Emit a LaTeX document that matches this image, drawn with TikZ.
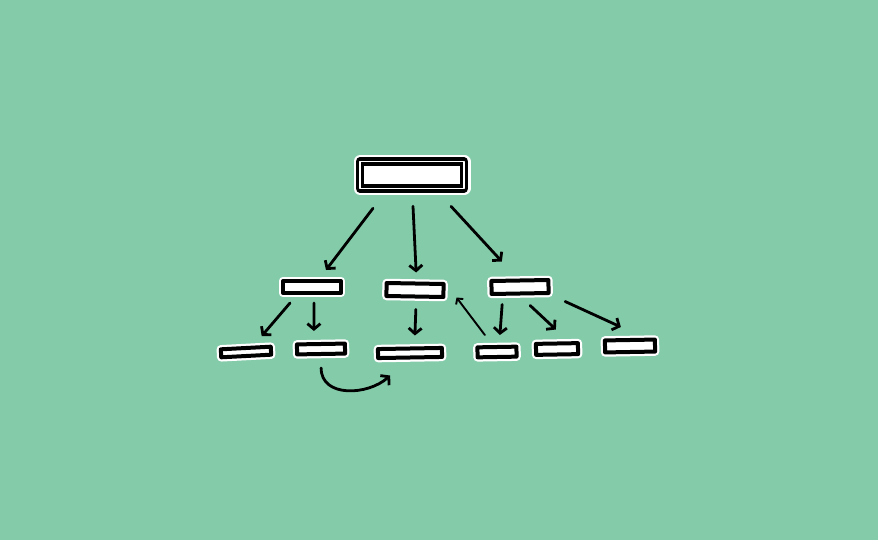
\documentclass[tikz,border=0pt]{standalone}
\usetikzlibrary{arrows.meta}
\definecolor{bgreen}{RGB}{132,203,170}
\begin{document}
\begin{tikzpicture}[x=1pt, y=-1pt,
		box/.style={draw=black, fill=white, line width=4pt, line join=round, inner sep=0pt,
			preaction={draw=white, line width=8.5pt}},
		rootbox/.style={draw=black, fill=white, line width=3.6pt, line join=round, double=white,
			double distance=1.6pt, inner sep=0pt,
			preaction={draw=white, line width=13pt}},
		arr/.style={line width=2.8pt, line cap=round,
			-{Straight Barb[length=5.5pt, width=13pt, line width=2.8pt]}},
		thinarr/.style={line width=1.9pt, line cap=round,
			-{Straight Barb[length=4pt, width=9pt, line width=1.9pt]}}]
				\fill[bgreen] (0, 0) rectangle (878, 540);

				%%the boxes
				\node[rootbox, minimum width=104pt, minimum height=27pt] (root) at (412, 175) {};

				\node[box, minimum width=58pt, minimum height=12pt] (midA) at (312, 287) {};
				\node[box, minimum width=57pt, minimum height=13pt, rotate=-1] (midB) at (415, 290) {};
				\node[box, minimum width=57pt, minimum height=13pt, rotate=1] (midC) at (520, 287) {};

				\node[box, minimum width=50pt, minimum height=8pt, rotate=3] (lowD) at (246, 352) {};
				\node[box, minimum width=48pt, minimum height=10pt, rotate=1] (lowE) at (321, 349) {};
				\node[box, minimum width=64pt, minimum height=9pt, rotate=1] (lowF) at (410, 353) {};
				\node[box, minimum width=39pt, minimum height=10pt, rotate=1] (lowG) at (497, 352) {};
				\node[box, minimum width=42pt, minimum height=11pt, rotate=1] (lowH) at (557, 349) {};
				\node[box, minimum width=50pt, minimum height=12pt, rotate=1] (lowI) at (630, 346) {};

				%%root to the middle row
				\draw[arr] ([xshift=-39pt, yshift=-18pt]root.south) -- ([xshift=14pt, yshift=9pt]midA.north);
				\draw[arr] ([xshift=1pt, yshift=-16pt]root.south) -- ([xshift=1pt, yshift=9pt]midB.north);
				\draw[arr] ([xshift=39pt, yshift=-16pt]root.south) -- ([xshift=-18pt, yshift=17pt]midC.north);

				%%left branch
				\draw[arr] ([xshift=-22pt, yshift=-8pt]midA.south) -- ([xshift=16pt, yshift=10pt]lowD.north);
				\draw[arr] ([xshift=2pt, yshift=-8pt]midA.south) -- ([xshift=-7pt, yshift=11pt]lowE.north);
				\draw[arr] ([yshift=-12pt]lowE.south) .. controls +(0, 30) and +(-22, 20) .. ([xshift=-20pt, yshift=-16pt]lowF.south);

				%%middle branch
				\draw[arr] ([xshift=1pt, yshift=-11pt]midB.south) -- ([xshift=5pt, yshift=11pt]lowF.north);
				\draw[thinarr] ([xshift=-12pt, yshift=10pt]lowG.north) -- ([xshift=11pt, yshift=-7pt]midB.east);

				%%right branch
				\draw[arr] ([xshift=-18pt, yshift=-9pt]midC.south) -- ([xshift=3pt, yshift=10pt]lowG.north);
				\draw[arr] ([xshift=10pt, yshift=-10pt]midC.south) -- ([xshift=-1pt, yshift=12pt]lowH.north);
				\draw[arr] ([xshift=45pt, yshift=-6pt]midC.south) -- ([xshift=-9pt, yshift=11pt]lowI.north);
\end{tikzpicture}
\end{document}
